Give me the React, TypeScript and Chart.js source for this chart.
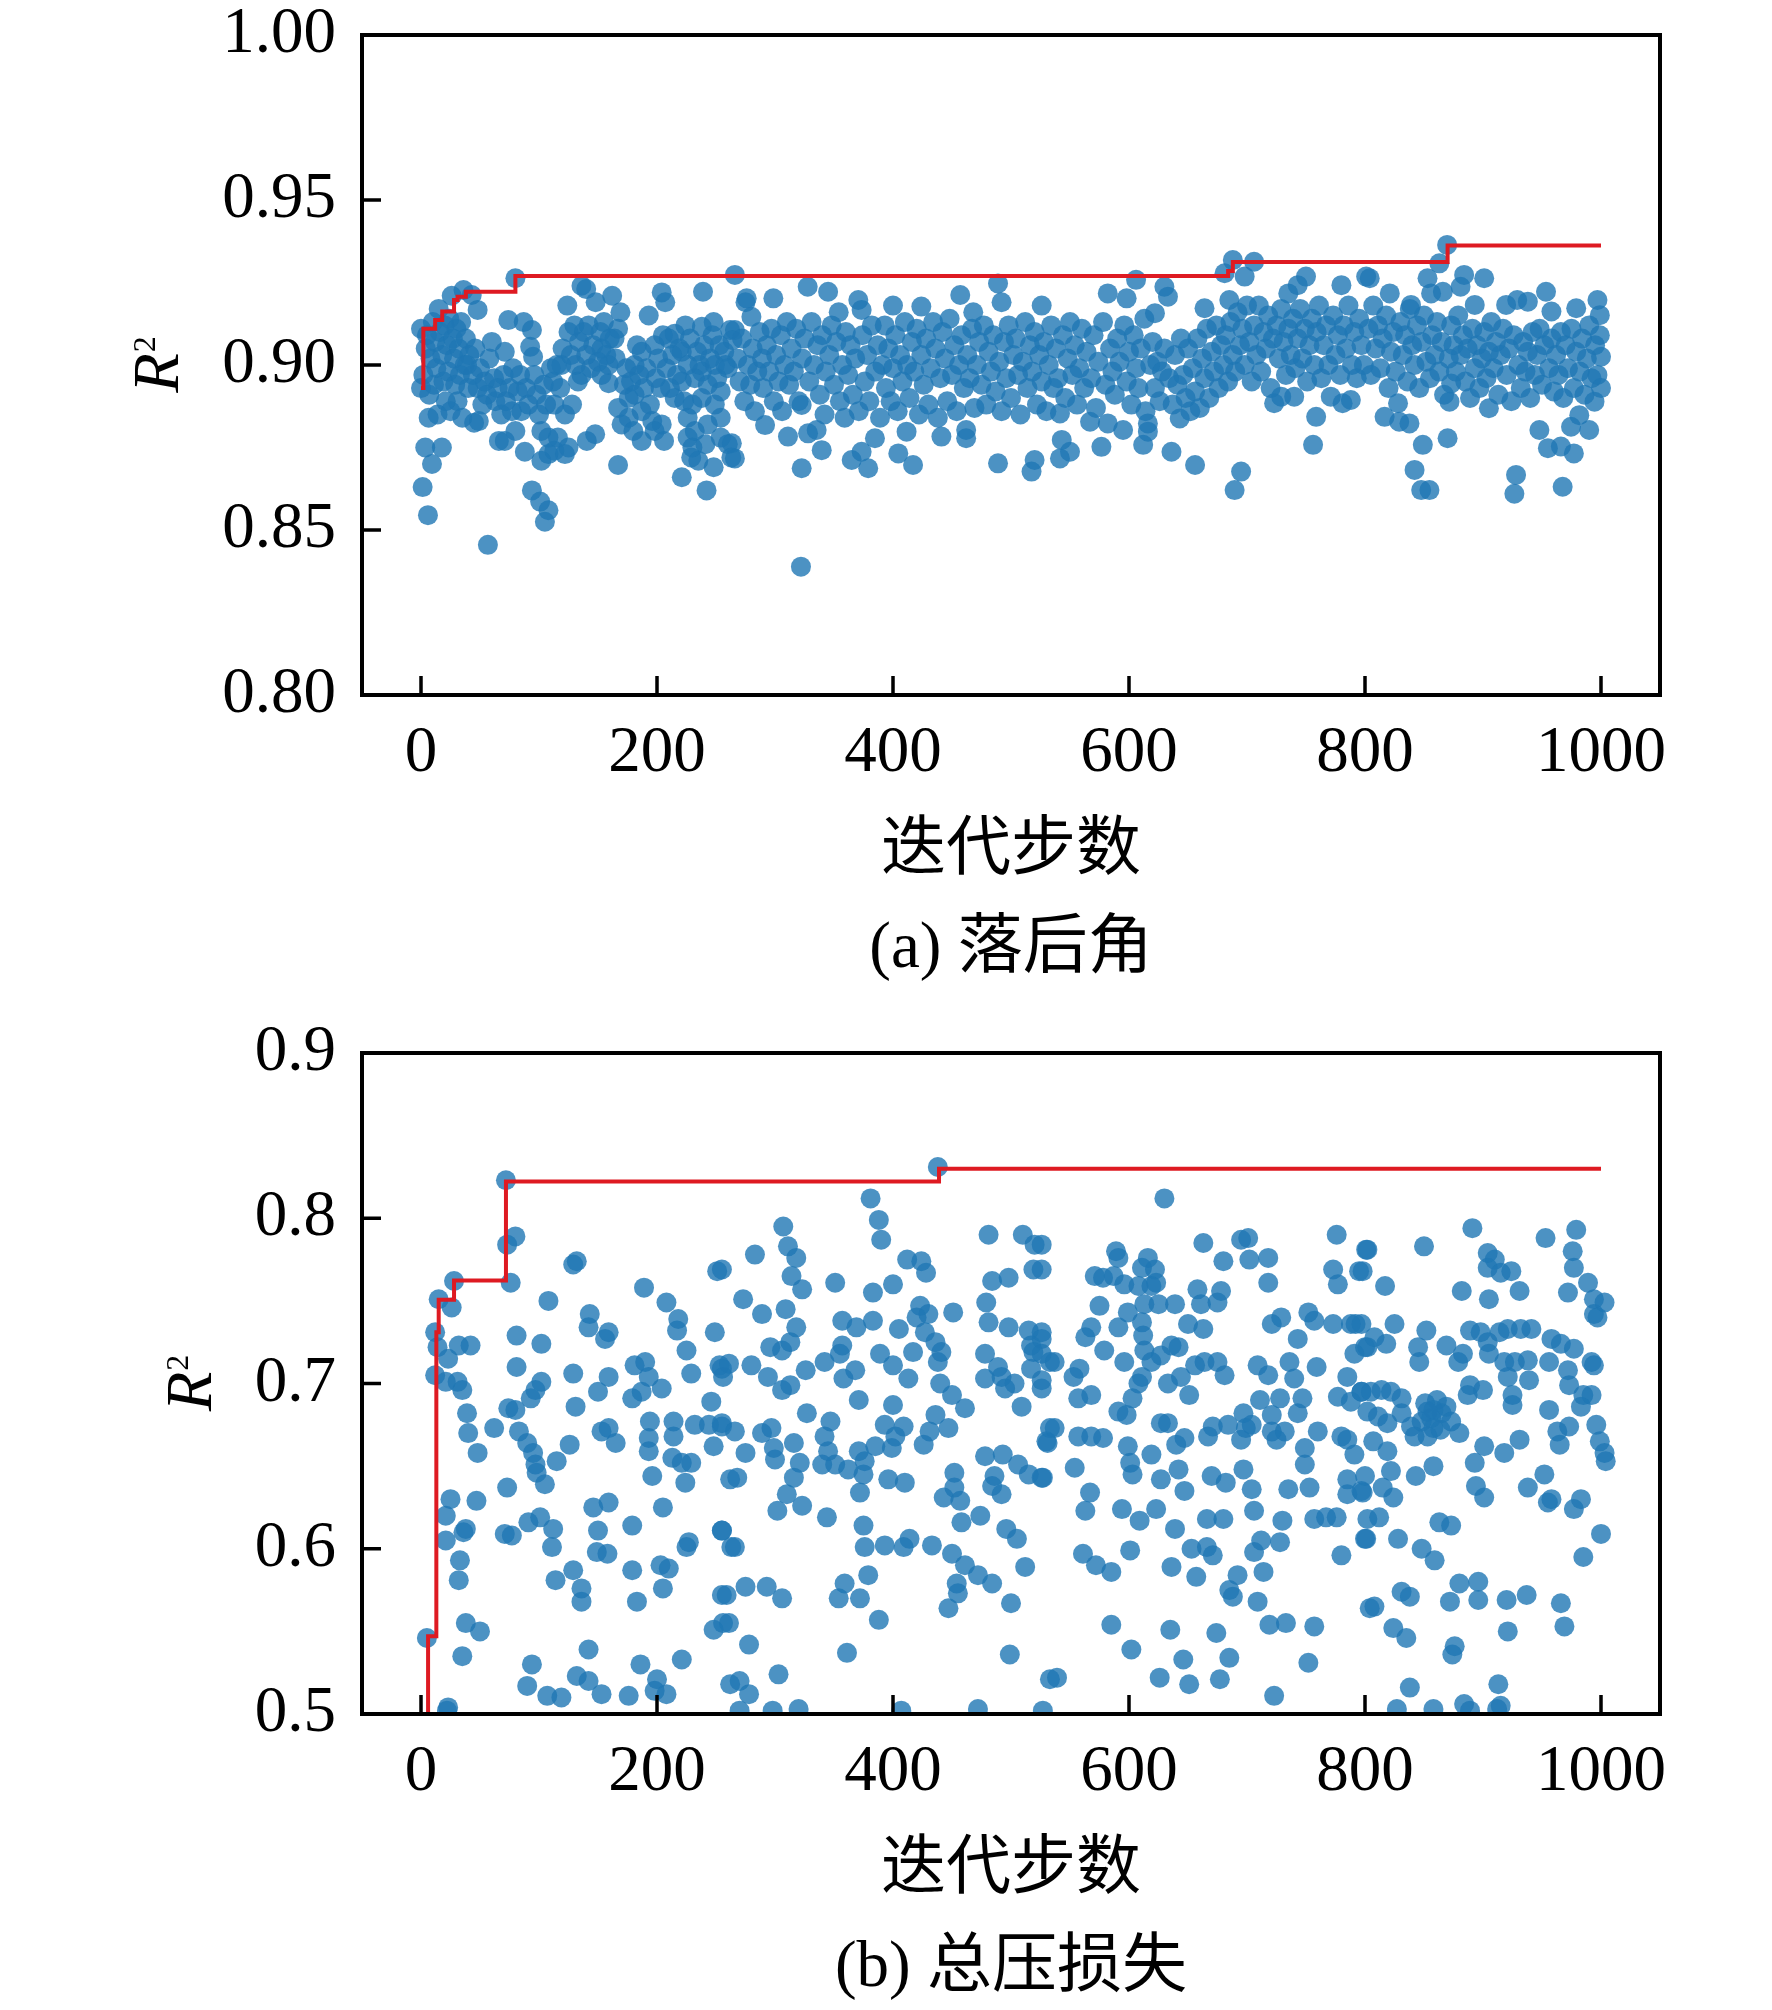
import React, { useEffect, useRef } from 'react'
import { Chart, registerables } from 'chart.js'
import type { Plugin } from 'chart.js'

Chart.register(...registerables)

type Pair = [number, number]

// ---- data -----------------------------------------------------------------

const xTicks = [0, 200, 400, 600, 800, 1000]
const lagYTicks = [0.8, 0.85, 0.9, 0.95, 1.0]
const lossYTicks = [0.5, 0.6, 0.7, 0.8, 0.9]

const xTitle = '迭代步数'
const lagCaption = '(a) 落后角'
const lossCaption = '(b) 总压损失'

// best R² found so far (step line)
const lagBest: Pair[] = [
  [0, 0.893], [2, 0.911], [12, 0.9136], [18, 0.9162], [28, 0.9197], [31, 0.9207],
  [38, 0.9222], [80, 0.927], [684, 0.9285], [688, 0.9312], [870, 0.9362], [1000, 0.9362],
]

const lossBest: Pair[] = [
  [0, 0.42], [6, 0.547], [13, 0.731], [15, 0.7507], [28, 0.7624], [72, 0.8223],
  [439, 0.83], [1000, 0.83],
]

// R² of every trial, deviation angle
const lagTrials: Pair[] = [
  [0, 0.893], [0, 0.911], [2, 0.897], [4, 0.905], [5, 0.909], [6.5, 0.884], [3.6, 0.875], [17.7, 0.875],
  [9.3, 0.87], [1.4, 0.863], [5.9, 0.8545], [56.7, 0.8455],
  [8, 0.902], [10, 0.913], [12, 0.907], [13, 0.899], [15, 0.917], [16, 0.91], [18, 0.903], [19, 0.895],
  [20, 0.912], [22, 0.906], [23, 0.898], [24, 0.914], [26, 0.921], [27, 0.908], [28, 0.902], [29, 0.894],
  [30, 0.911], [32, 0.905], [33, 0.897], [34, 0.913], [36, 0.9227], [37, 0.9], [38, 0.908], [40, 0.893],
  [41, 0.903], [43, 0.9212], [44, 0.897], [46, 0.905], [48, 0.9167], [48, 0.893], [50, 0.899], [52, 0.888],
  [54, 0.895], [56, 0.891], [11, 0.894], [7, 0.891], [21, 0.889], [31, 0.889], [25, 0.886], [14, 0.885],
  [35, 0.884], [45, 0.8825], [49, 0.883], [39, 0.9],
  [58, 0.902], [60, 0.907], [62, 0.896], [63, 0.889], [65, 0.893], [66, 0.877], [68, 0.885], [70, 0.897],
  [71, 0.904], [71, 0.877], [72, 0.889], [74, 0.9136], [75, 0.893], [77, 0.886], [78, 0.899], [80, 0.9263],
  [80, 0.88], [82, 0.892], [84, 0.897], [85, 0.886], [87, 0.913], [88, 0.8737], [89, 0.893], [91, 0.888],
  [92.5, 0.9055], [94, 0.9106], [94, 0.862], [95, 0.9025], [96, 0.897], [98, 0.891], [100, 0.885],
  [101, 0.8586], [102, 0.871], [102, 0.88], [104, 0.894], [105, 0.8525], [106, 0.888], [108, 0.856],
  [108, 0.873], [108, 0.878], [110, 0.899],
  [112, 0.895], [113, 0.888], [113, 0.874], [115, 0.9], [116, 0.878], [118, 0.893], [119, 0.9], [120, 0.905],
  [122, 0.873], [122, 0.885], [124, 0.918], [125, 0.91], [125, 0.875], [127, 0.903], [128, 0.888], [130, 0.912],
  [131, 0.9], [133, 0.895], [134, 0.907], [136, 0.924], [136, 0.897], [138, 0.91], [140, 0.923], [140, 0.903],
  [140.5, 0.877], [142, 0.912], [144, 0.899], [146, 0.906], [147.6, 0.879], [148, 0.919], [150, 0.901],
  [152, 0.91], [153, 0.905], [153, 0.897], [155, 0.913], [157, 0.903], [159, 0.9], [159, 0.8945], [160, 0.908],
  [162, 0.921], [164, 0.908], [165, 0.902], [167, 0.911], [167, 0.8697], [167, 0.887], [169, 0.916],
  [170, 0.882], [172, 0.894], [174, 0.899], [176, 0.884], [176, 0.89], [178, 0.895], [180, 0.88], [181, 0.891],
  [181, 0.9], [183, 0.906], [185, 0.897], [187, 0.877], [187, 0.886], [187, 0.904], [189, 0.893], [191, 0.899],
  [193, 0.915], [194, 0.888], [196, 0.883], [198, 0.906], [198, 0.88], [199, 0.896], [201, 0.902], [203, 0.893],
  [204, 0.922], [204, 0.882], [205, 0.909], [206, 0.877], [207, 0.919], [208, 0.899], [210, 0.908], [211, 0.893],
  [213, 0.903], [215, 0.9095], [215, 0.89], [217, 0.897], [219, 0.905], [221, 0.904], [221, 0.895], [221, 0.866],
  [223, 0.889], [224, 0.912], [226, 0.9], [226, 0.884], [226, 0.878], [228, 0.908], [229, 0.872], [230, 0.888],
  [230, 0.875], [232, 0.896], [232, 0.88], [234, 0.904], [235, 0.871], [236, 0.9], [238, 0.898], [238, 0.89],
  [238, 0.9116], [239, 0.9222], [240, 0.906], [241, 0.876], [242, 0.862], [243, 0.894], [243, 0.882], [245, 0.902],
  [247, 0.909], [248, 0.913], [248, 0.869], [249, 0.9], [249, 0.888], [251, 0.896], [253, 0.906], [254, 0.892],
  [254, 0.884], [254, 0.878], [257, 0.904], [258, 0.9], [260, 0.899], [260, 0.876], [262, 0.9106], [263, 0.872],
  [264, 0.9076], [266, 0.9273], [266, 0.9106], [263.4, 0.8763], [266, 0.8717], [268, 0.902], [270, 0.895],
  [272, 0.908], [274, 0.889], [275, 0.919], [276, 0.9202], [277, 0.9], [279, 0.894], [280, 0.9146], [281, 0.905],
  [283, 0.886], [285, 0.898], [287, 0.91], [289, 0.902], [290, 0.893], [291.6, 0.8818], [293, 0.906], [295, 0.898],
  [297, 0.911], [298.6, 0.9202], [299, 0.889], [301, 0.903], [303, 0.895], [305, 0.909], [306, 0.886], [308, 0.9],
  [310, 0.913], [311, 0.8783], [312, 0.894], [314, 0.905], [316, 0.898], [318, 0.911], [320, 0.889],
  [322.6, 0.8879], [322.6, 0.8687], [322, 0.8389], [323, 0.902], [325, 0.908], [327.7, 0.9237], [328, 0.8793],
  [329, 0.895], [331, 0.913], [333, 0.9], [335.3, 0.8803], [336, 0.906], [338, 0.891], [339.6, 0.8742],
  [340, 0.909], [342, 0.885], [343, 0.898], [345, 0.9222], [346, 0.903], [348, 0.912], [350, 0.894], [352, 0.907],
  [354, 0.916], [355, 0.889], [357, 0.9], [359, 0.884], [360, 0.91], [362, 0.897], [364, 0.906], [365, 0.8712],
  [366, 0.891], [368, 0.902], [370.6, 0.9197], [371, 0.886], [373.4, 0.9167], [373.4, 0.8737], [374, 0.909],
  [376, 0.895], [378, 0.903], [379, 0.8687], [380, 0.889], [382, 0.912], [384.7, 0.8778], [385, 0.898],
  [387, 0.906], [389, 0.884], [391, 0.9], [393, 0.912], [394, 0.893], [396, 0.905], [398, 0.889], [400, 0.918],
  [400, 0.899],
  [402, 0.909], [404, 0.886], [404.5, 0.8732], [406, 0.903], [408, 0.895], [410, 0.913], [411.5, 0.8798],
  [412, 0.9], [414, 0.89], [416, 0.907], [417, 0.8697], [418, 0.898], [420, 0.911], [422, 0.885], [424, 0.9177],
  [424, 0.903], [426, 0.894], [428, 0.908], [430, 0.888], [432, 0.899], [434, 0.913], [436, 0.905], [438, 0.884],
  [440, 0.896], [441, 0.8783], [442, 0.91], [444, 0.902], [446, 0.889], [448, 0.914], [450, 0.897], [452, 0.906],
  [454, 0.886], [456, 0.9], [457, 0.9212], [458, 0.909], [460, 0.893], [462, 0.8803], [462, 0.8778], [463, 0.903],
  [465, 0.896], [467, 0.911], [468, 0.916], [469, 0.887], [471, 0.9], [473, 0.907], [475, 0.894], [477, 0.912],
  [479, 0.888], [481, 0.904], [483, 0.898], [485, 0.909], [487, 0.892], [489, 0.9247], [489, 0.8702], [490, 0.901],
  [492, 0.919], [492, 0.886], [494, 0.907], [496, 0.896], [498, 0.912], [500, 0.89], [502, 0.903], [504, 0.908],
  [506, 0.897], [508, 0.885], [510, 0.901], [512, 0.913], [514, 0.893], [516, 0.906], [517.4, 0.8677], [518, 0.898],
  [520, 0.8712], [520, 0.91], [522, 0.888], [524, 0.903], [526, 0.918], [526, 0.895], [528, 0.907], [530, 0.886],
  [532, 0.9], [534, 0.912], [536, 0.893], [538, 0.905], [540, 0.896], [541.5, 0.8853], [541.5, 0.8717],
  [543, 0.8773], [544, 0.909], [546, 0.89], [548, 0.902], [550, 0.8737], [550, 0.913], [552, 0.897], [554, 0.906],
  [556, 0.888], [558, 0.899], [560, 0.911], [562, 0.893], [564, 0.904], [567, 0.8828], [568, 0.896], [570, 0.909],
  [572, 0.887], [574, 0.901], [576.6, 0.8752], [578, 0.913], [580, 0.894], [582, 0.9217], [582, 0.8823],
  [584, 0.905], [586, 0.898], [588, 0.891], [590, 0.908], [592, 0.901], [595, 0.8803], [596, 0.912], [598, 0.9202],
  [598, 0.895], [600, 0.904], [602, 0.888], [604, 0.909], [606, 0.9258], [606, 0.899], [608, 0.893], [610, 0.905],
  [612, 0.8758], [613, 0.914], [614, 0.886], [616, 0.8823], [616, 0.8798], [618, 0.9], [620, 0.907], [622, 0.9157],
  [622, 0.893], [624, 0.901], [626, 0.889], [628, 0.898], [630, 0.9237], [630, 0.905], [633, 0.9207], [634, 0.896],
  [636, 0.8737], [637, 0.888], [639, 0.903], [641, 0.894], [643, 0.8838], [644, 0.908], [646, 0.897], [648, 0.89],
  [650, 0.905], [652, 0.886], [654, 0.899], [656, 0.8697], [656, 0.892], [658, 0.908], [660, 0.887], [662, 0.902],
  [664, 0.9172], [664, 0.896], [666, 0.911], [668, 0.89], [670, 0.904], [672, 0.898], [674, 0.912], [676, 0.893],
  [678, 0.906], [680, 0.9],
  [681, 0.9278], [682, 0.909], [684, 0.895], [685, 0.9197], [686, 0.913], [688, 0.9318], [688, 0.903],
  [689.5, 0.8621], [690, 0.898], [692, 0.916], [694, 0.906], [695, 0.8677], [696, 0.911], [698, 0.9268],
  [698, 0.9], [700, 0.918], [702, 0.907], [704, 0.895], [706, 0.9313], [706, 0.912], [708, 0.903], [710, 0.918],
  [712, 0.898], [714, 0.91], [716, 0.905], [718, 0.915], [720, 0.893], [722, 0.908], [723, 0.8884], [725, 0.912],
  [727, 0.902], [729, 0.8904], [729, 0.917], [731, 0.907], [733, 0.897], [735, 0.9217], [735, 0.911], [737, 0.903],
  [739, 0.914], [740, 0.8904], [741, 0.899], [743, 0.9242], [743, 0.908], [745, 0.917], [747, 0.902], [749, 0.911],
  [750, 0.9268], [751, 0.895], [753, 0.906], [755, 0.914], [756, 0.8758], [757, 0.9], [758.6, 0.8843], [759, 0.91],
  [761, 0.918], [763, 0.896], [765, 0.906], [767, 0.912], [769, 0.9], [771, 0.8904], [773, 0.915], [775, 0.903],
  [777, 0.909], [779, 0.897], [780, 0.9242], [781, 0.8884], [782, 0.912], [784, 0.905], [786, 0.918], [788, 0.8894],
  [789, 0.9], [791, 0.91], [793, 0.896], [795, 0.914], [797, 0.906], [799, 0.9], [801, 0.9268],
  [803, 0.911], [804, 0.9263], [805, 0.897], [807, 0.918], [809, 0.905], [811, 0.912], [813, 0.899], [815, 0.908],
  [816.6, 0.8843], [818, 0.915], [820, 0.893], [821, 0.9217], [822, 0.904], [824, 0.91], [826, 0.898], [828, 0.8884],
  [829, 0.8828], [830, 0.913], [832, 0.903], [834, 0.909], [836, 0.895], [837.7, 0.8823], [838, 0.917], [839, 0.9182],
  [840, 0.906], [842, 0.8682], [842, 0.9], [844, 0.912], [846, 0.893], [847.6, 0.8621], [848, 0.907], [849, 0.8758],
  [850, 0.915], [852, 0.901], [853, 0.9263], [854.6, 0.8621], [855, 0.896], [856, 0.9217], [857, 0.909], [859, 0.903],
  [861, 0.913], [863, 0.9308], [863, 0.898], [865, 0.907], [866, 0.9222], [867, 0.891], [869.6, 0.9364], [870, 0.8778],
  [871, 0.902], [871.6, 0.8889], [873, 0.8944], [873, 0.912], [875, 0.906], [877, 0.898], [879, 0.915], [881, 0.9237],
  [881, 0.903],
  [883, 0.909], [884, 0.9273], [885, 0.895], [887, 0.905], [889, 0.89], [891, 0.911], [893, 0.9182], [893, 0.899],
  [895, 0.906], [897, 0.893], [899, 0.902], [901, 0.9263], [901, 0.91], [903, 0.896], [905, 0.8869], [905, 0.904],
  [907, 0.913], [909, 0.899], [911, 0.907], [913, 0.891], [915, 0.903], [917, 0.911], [919.6, 0.9182], [920, 0.897],
  [922, 0.905], [924, 0.889], [926, 0.909], [926.6, 0.861], [928, 0.8667], [929, 0.9197], [930, 0.9], [932, 0.893],
  [934, 0.907], [936, 0.898], [938, 0.9192], [938, 0.904], [940, 0.89], [942, 0.91], [944, 0.897], [946, 0.903],
  [947.8, 0.8803], [948, 0.911], [950, 0.894], [952, 0.906], [953.4, 0.9222], [955, 0.8748], [956, 0.899],
  [958, 0.9162], [958, 0.908], [960, 0.892], [962, 0.903], [964, 0.897], [966, 0.8753], [966, 0.91], [967.5, 0.8631],
  [968, 0.89], [970, 0.906], [972, 0.899], [974.6, 0.8813], [975, 0.911], [977, 0.8732], [977, 0.893], [979, 0.9172],
  [979, 0.904], [981.6, 0.8848], [982, 0.898], [984, 0.908], [986, 0.891], [988, 0.902], [990, 0.8803], [990, 0.912],
  [992, 0.896], [994.5, 0.8889], [995, 0.906], [997, 0.9197], [997, 0.897], [999, 0.9151], [999, 0.909],
  [1000, 0.9025], [1000, 0.893],
]

// R² of every trial, total pressure loss
const lossTrials: Pair[] = [
  [72, 0.823], [80, 0.789], [73, 0.784], [76, 0.761], [28, 0.762], [15, 0.751], [26, 0.746], [12, 0.731], [23, 0.715],
  [32, 0.723], [42, 0.723], [21, 0.701], [31, 0.701], [35, 0.696], [39, 0.682], [40, 0.67], [48, 0.658], [62, 0.673],
  [81, 0.729], [102, 0.724], [81, 0.71], [108, 0.75], [129, 0.772], [132, 0.774], [143, 0.742], [142, 0.734],
  [159, 0.731], [156, 0.727], [129, 0.706], [159, 0.704], [150, 0.695], [102, 0.701], [97, 0.696], [93, 0.691],
  [74, 0.685], [80, 0.684], [83, 0.671], [90, 0.664], [95, 0.658], [97, 0.651], [98, 0.646], [105, 0.639], [115, 0.653],
  [126, 0.663], [131, 0.686], [153, 0.671], [159, 0.673], [165, 0.664], [181, 0.711], [190, 0.713], [193, 0.704],
  [187, 0.695], [179, 0.691], [204, 0.697], [189, 0.758], [208, 0.749], [218, 0.739], [217, 0.732], [225, 0.72],
  [229, 0.706], [194, 0.677], [193, 0.667], [193, 0.659], [196, 0.644], [214, 0.677], [214, 0.668], [213, 0.655],
  [221, 0.652], [229, 0.652], [224, 0.64], [232, 0.675], [244, 0.675], [255, 0.674], [249, 0.731], [251, 0.768],
  [246, 0.689], [248, 0.662], [253, 0.711], [256, 0.704], [262, 0.642],
  [25, 0.63], [21, 0.62], [21, 0.605], [47, 0.629], [38, 0.612], [36, 0.61], [33, 0.593], [32, 0.581], [73, 0.637],
  [71, 0.609], [77, 0.608], [91, 0.616], [101, 0.619], [112, 0.612], [111, 0.601], [114, 0.581], [129, 0.587],
  [136, 0.576], [136, 0.568], [146, 0.625], [159, 0.628], [150, 0.611], [149, 0.598], [158, 0.597], [179, 0.614],
  [179, 0.587], [183, 0.568], [205, 0.625], [203, 0.59], [210, 0.588], [205, 0.576], [225, 0.601], [227, 0.604],
  [255, 0.611], [263, 0.601], [255, 0.572], [248, 0.551], [256, 0.555], [38, 0.555], [50, 0.55], [5, 0.546],
  [35, 0.535], [142, 0.539], [94, 0.53], [90, 0.517], [107, 0.511], [119, 0.51], [132, 0.523], [142, 0.52],
  [153, 0.512], [176, 0.511], [186, 0.53], [200, 0.521], [198, 0.514], [208, 0.512], [221, 0.533], [23, 0.504],
  [262, 0.518], [12, 0.705], [14, 0.722],
  [438, 0.831], [381, 0.812], [388, 0.799], [390, 0.787], [307, 0.795], [311, 0.783], [318, 0.776], [314, 0.765],
  [323, 0.757], [283, 0.778], [255, 0.769], [273, 0.751], [289, 0.742], [309, 0.745], [318, 0.734], [313, 0.725],
  [306, 0.72], [296, 0.722], [351, 0.761], [412, 0.775], [424, 0.774], [428, 0.767], [400, 0.76], [383, 0.755],
  [357, 0.738], [369, 0.734], [383, 0.738], [423, 0.747], [420, 0.74], [430, 0.742], [405, 0.733], [451, 0.743],
  [427, 0.731], [436, 0.725], [441, 0.719], [438, 0.713], [357, 0.723], [355, 0.718], [342, 0.713], [326, 0.708],
  [389, 0.718], [400, 0.711], [417, 0.719], [413, 0.703], [368, 0.708], [358, 0.703], [261, 0.712], [255, 0.709],
  [280, 0.711], [294, 0.704], [306, 0.696], [313, 0.699], [440, 0.7], [450, 0.693], [461, 0.685], [371, 0.69],
  [400, 0.687], [393, 0.675], [409, 0.674], [402, 0.668], [436, 0.681], [447, 0.673], [431, 0.671], [426, 0.663],
  [327, 0.682], [347, 0.677], [342, 0.668], [345, 0.659], [340, 0.651], [351, 0.651], [297, 0.673], [299, 0.661],
  [300, 0.654], [289, 0.67], [255, 0.676], [266, 0.671], [275, 0.658], [316, 0.664], [321, 0.652], [316, 0.643],
  [310, 0.633], [302, 0.623], [323, 0.626], [362, 0.648], [371, 0.659], [376, 0.653], [385, 0.662], [399, 0.661],
  [375, 0.645], [372, 0.634], [396, 0.642], [410, 0.64], [268, 0.643], [344, 0.619], [452, 0.646], [452, 0.637],
  [443, 0.631], [457, 0.629], [458, 0.616], [474, 0.62], [478, 0.656], [493, 0.657], [486, 0.644], [484, 0.638],
  [492, 0.633], [506, 0.651], [515, 0.645], [527, 0.643], [530, 0.665], [533, 0.673], [478, 0.718], [478, 0.703],
  [489, 0.71], [492, 0.704], [503, 0.7], [495, 0.697], [509, 0.686], [526, 0.702], [517, 0.709], [519, 0.719],
  [526, 0.727], [533, 0.713], [481, 0.737], [498, 0.734], [515, 0.732], [517, 0.723], [479, 0.749], [484, 0.762],
  [498, 0.764], [481, 0.79], [510, 0.79], [520, 0.784], [519, 0.769], [255, 0.611], [266, 0.601], [375, 0.614],
  [376, 0.601], [393, 0.602], [409, 0.601], [414, 0.606], [433, 0.602], [450, 0.597], [461, 0.59], [472, 0.584],
  [484, 0.579], [454, 0.579], [455, 0.573], [447, 0.564], [496, 0.612], [505, 0.606], [512, 0.589], [500, 0.567],
  [499, 0.536], [379, 0.584], [359, 0.579], [354, 0.57], [372, 0.57], [388, 0.557], [275, 0.577], [293, 0.577],
  [306, 0.57], [259, 0.572], [261, 0.555], [278, 0.542], [361, 0.537], [303, 0.524], [270, 0.52], [278, 0.512],
  [533, 0.521],
  [630, 0.812], [663, 0.785], [680, 0.774], [695, 0.787], [701, 0.788], [702, 0.775], [718, 0.776], [718, 0.761],
  [776, 0.79], [773, 0.769], [777, 0.76], [801, 0.781], [795, 0.768], [526, 0.784], [526, 0.769], [589, 0.78],
  [591, 0.776], [587, 0.765], [571, 0.765], [578, 0.764], [596, 0.76], [608, 0.759], [619, 0.759], [623, 0.761],
  [611, 0.77], [616, 0.776], [622, 0.769], [658, 0.757], [678, 0.756], [661, 0.748], [675, 0.749], [575, 0.747],
  [599, 0.743], [613, 0.748], [625, 0.748], [639, 0.748], [650, 0.736], [663, 0.733], [568, 0.734], [563, 0.728],
  [558, 0.709], [553, 0.704], [591, 0.734], [611, 0.737], [612, 0.729], [613, 0.72], [619, 0.713], [611, 0.704],
  [608, 0.7], [603, 0.691], [627, 0.717], [636, 0.723], [642, 0.722], [579, 0.72], [596, 0.713], [633, 0.7],
  [644, 0.704], [656, 0.711], [664, 0.713], [675, 0.713], [681, 0.705], [651, 0.693], [557, 0.691], [568, 0.693],
  [526, 0.697], [537, 0.713], [591, 0.683], [598, 0.681], [627, 0.676], [633, 0.676], [537, 0.673], [531, 0.664],
  [526, 0.643], [557, 0.668], [568, 0.668], [578, 0.667], [599, 0.662], [601, 0.652], [603, 0.645], [619, 0.657],
  [647, 0.667], [640, 0.663], [554, 0.649], [567, 0.634], [563, 0.623], [594, 0.624], [609, 0.617], [623, 0.624],
  [627, 0.642], [642, 0.648], [647, 0.635], [639, 0.612], [670, 0.644], [682, 0.64], [667, 0.668], [671, 0.674],
  [684, 0.675], [697, 0.682], [699, 0.673], [695, 0.666], [704, 0.675], [697, 0.648], [704, 0.636], [706, 0.623],
  [666, 0.618], [680, 0.618], [653, 0.6], [666, 0.601], [671, 0.596], [636, 0.589], [657, 0.583], [561, 0.597],
  [572, 0.59], [585, 0.586], [601, 0.599], [711, 0.69], [721, 0.681], [709, 0.711], [718, 0.705], [728, 0.691],
  [736, 0.713], [740, 0.703], [747, 0.691], [743, 0.682], [732, 0.671], [725, 0.666], [721, 0.671], [721, 0.736],
  [729, 0.74], [743, 0.727], [752, 0.743], [757, 0.738], [773, 0.736], [792, 0.736], [759, 0.71], [760, 0.671],
  [749, 0.661], [749, 0.651], [735, 0.636], [753, 0.637], [730, 0.617], [728, 0.604], [712, 0.605], [706, 0.598],
  [714, 0.586], [692, 0.584], [685, 0.575], [688, 0.571], [709, 0.568], [757, 0.618], [767, 0.619], [776, 0.619],
  [780, 0.596], [780, 0.668], [785, 0.666], [791, 0.657], [785, 0.642], [797, 0.635], [785, 0.633], [777, 0.692],
  [788, 0.689], [797, 0.695], [785, 0.704], [791, 0.718], [802, 0.722], [788, 0.736], [801, 0.606], [526, 0.731],
  [526, 0.718], [585, 0.554], [602, 0.539], [635, 0.551], [646, 0.533], [626, 0.522], [651, 0.518], [674, 0.549],
  [685, 0.534], [677, 0.521], [719, 0.554], [733, 0.555], [757, 0.553], [752, 0.531], [723, 0.511], [539, 0.522],
  [804, 0.564],
  [891, 0.794], [953, 0.788], [979, 0.793], [976, 0.78], [977, 0.77], [989, 0.761], [994, 0.751], [1003, 0.749],
  [994, 0.742], [997, 0.74], [972, 0.755], [802, 0.781], [798, 0.768], [850, 0.783], [817, 0.759], [904, 0.779],
  [910, 0.775], [904, 0.77], [915, 0.767], [924, 0.768], [882, 0.756], [905, 0.751], [931, 0.756], [825, 0.736],
  [808, 0.728], [800, 0.722], [818, 0.724], [797, 0.736], [852, 0.732], [845, 0.722], [846, 0.713], [869, 0.723],
  [879, 0.713], [883, 0.718], [889, 0.732], [898, 0.731], [904, 0.725], [905, 0.718], [914, 0.731], [921, 0.733],
  [932, 0.733], [941, 0.733], [918, 0.713], [921, 0.704], [927, 0.713], [938, 0.714], [939, 0.702], [925, 0.693],
  [925, 0.687], [889, 0.699], [887, 0.693], [900, 0.696], [958, 0.727], [966, 0.724], [977, 0.721], [956, 0.713],
  [992, 0.713], [994, 0.711], [972, 0.708], [973, 0.699], [985, 0.693], [983, 0.686], [992, 0.693], [956, 0.684],
  [963, 0.671], [965, 0.663], [973, 0.674], [996, 0.675], [999, 0.665], [1003, 0.658], [1004, 0.653], [797, 0.695],
  [805, 0.695], [814, 0.696], [822, 0.695], [831, 0.691], [802, 0.683], [811, 0.68], [819, 0.676], [831, 0.682],
  [839, 0.674], [842, 0.668], [853, 0.668], [848, 0.677], [858, 0.684], [865, 0.682], [873, 0.677], [880, 0.67],
  [851, 0.688], [856, 0.679], [861, 0.69], [864, 0.672], [869, 0.686], [853, 0.683], [858, 0.673], [807, 0.665],
  [819, 0.659], [822, 0.647], [815, 0.637], [824, 0.631], [800, 0.644], [798, 0.634], [843, 0.644], [858, 0.65],
  [901, 0.662], [918, 0.658], [893, 0.652], [894, 0.638], [901, 0.631], [931, 0.666], [938, 0.637], [952, 0.645],
  [955, 0.628], [958, 0.63], [977, 0.624], [983, 0.63], [802, 0.618], [812, 0.619], [800, 0.606], [828, 0.606],
  [848, 0.6], [859, 0.593], [863, 0.616], [873, 0.614], [1000, 0.609], [985, 0.595], [808, 0.565], [824, 0.552],
  [835, 0.546], [831, 0.574], [838, 0.571], [872, 0.568], [880, 0.579], [896, 0.58], [896, 0.569], [920, 0.569],
  [937, 0.572], [921, 0.55], [966, 0.567], [969, 0.553], [876, 0.541], [874, 0.536], [838, 0.516], [913, 0.518],
  [915, 0.505], [884, 0.506], [858, 0.503],
  [270, 0.502], [298, 0.502], [320, 0.503], [407, 0.502], [472, 0.503], [527, 0.502], [827, 0.503], [889, 0.502],
  [912, 0.503], [22, 0.502],
]

// ---- layout / style -------------------------------------------------------

const CANVAS_W = 1772
const CANVAS_H = 1005
const PLOT_LEFT = 362
const PLOT_RIGHT = 1660
const SERIF = "'Liberation Serif', 'Noto Sans CJK SC', serif"
const POINT_COLOR = 'rgba(31, 119, 180, 0.8)'
const BEST_COLOR = '#de1a22'

type PanelProps = {
  trials: Pair[]
  best: Pair[]
  yMin: number
  yMax: number
  yTicks: number[]
  decimals: number
  caption: string
  plotTop: number
  plotBottom: number
  yTitleX: number
}

function drawRSquared(ctx: CanvasRenderingContext2D, x: number, y: number) {
  ctx.save()
  ctx.translate(x, y)
  ctx.rotate(-Math.PI / 2)
  ctx.fillStyle = '#000'
  ctx.textAlign = 'left'
  ctx.textBaseline = 'alphabetic'
  ctx.font = `italic 65px ${SERIF}`
  const rW = ctx.measureText('R').width
  ctx.font = `32px ${SERIF}`
  const sW = ctx.measureText('2').width
  const start = -(rW + sW) / 2
  ctx.font = `italic 65px ${SERIF}`
  ctx.fillText('R', start, 22)
  ctx.font = `32px ${SERIF}`
  ctx.fillText('2', start + rW + 1, 22 - 23)
  ctx.restore()
}

const Panel: React.FC<PanelProps> = (p) => {
  const ref = useRef<HTMLCanvasElement | null>(null)

  useEffect(() => {
    if (!ref.current) return

    const decorations: Plugin<'scatter'> = {
      id: 'decorations',
      afterDraw(chart) {
        const { ctx, chartArea: a, scales } = chart
        ctx.save()
        ctx.strokeStyle = '#000'

        // inward tick marks on the left and bottom
        ctx.lineWidth = 3.5
        ctx.beginPath()
        xTicks.forEach((v) => {
          const px = scales.x.getPixelForValue(v)
          ctx.moveTo(px, a.bottom)
          ctx.lineTo(px, a.bottom - 19)
        })
        p.yTicks.forEach((v) => {
          const py = scales.y.getPixelForValue(v)
          ctx.moveTo(a.left, py)
          ctx.lineTo(a.left + 19, py)
        })
        ctx.stroke()

        // frame
        ctx.lineWidth = 4
        ctx.strokeRect(a.left, a.top, a.right - a.left, a.bottom - a.top)

        // titles
        ctx.fillStyle = '#000'
        ctx.textAlign = 'center'
        ctx.textBaseline = 'middle'
        ctx.font = `65px ${SERIF}`
        const cx = (a.left + a.right) / 2
        ctx.fillText(xTitle, cx, a.bottom + 157)
        ctx.fillText(p.caption, cx, a.bottom + 255)
        ctx.restore()

        drawRSquared(ctx, p.yTitleX, (a.top + a.bottom) / 2)
      },
    }

    const tickFont = { family: SERIF, size: 65, lineHeight: 1 }

    const chart = new Chart(ref.current, {
      type: 'scatter',
      data: {
        datasets: [
          {
            data: p.best.map(([x, y]) => ({ x, y })),
            showLine: true,
            stepped: true,
            borderColor: BEST_COLOR,
            borderWidth: 4,
            pointRadius: 0,
            fill: false,
            clip: 0,
            order: 0,
          },
          {
            data: p.trials.map(([x, y]) => ({ x, y })),
            backgroundColor: POINT_COLOR,
            borderWidth: 0,
            pointRadius: 10,
            clip: 0,
            order: 1,
          },
        ],
      },
      options: {
        responsive: false,
        devicePixelRatio: 1,
        animation: false,
        events: [],
        layout: { padding: { left: 0, right: CANVAS_W - PLOT_RIGHT, top: p.plotTop, bottom: 0 } },
        plugins: { legend: { display: false }, tooltip: { enabled: false } },
        scales: {
          x: {
            type: 'linear',
            min: -50,
            max: 1050,
            grid: { display: false },
            border: { display: false },
            afterBuildTicks: (scale) => {
              scale.ticks = xTicks.map((value) => ({ value }))
            },
            afterFit: (scale) => {
              scale.height = CANVAS_H - p.plotBottom
              scale.paddingLeft = 0
              scale.paddingRight = 0
            },
            ticks: {
              font: tickFont,
              color: '#000',
              padding: 18,
              maxRotation: 0,
              autoSkip: false,
              callback: (v) => String(v),
            },
          },
          y: {
            type: 'linear',
            min: p.yMin,
            max: p.yMax,
            grid: { display: false },
            border: { display: false },
            afterBuildTicks: (scale) => {
              scale.ticks = p.yTicks.map((value) => ({ value }))
            },
            afterFit: (scale) => {
              scale.width = PLOT_LEFT
              scale.paddingTop = 0
              scale.paddingBottom = 0
            },
            ticks: {
              font: tickFont,
              color: '#000',
              padding: 18,
              autoSkip: false,
              callback: (v) => Number(v).toFixed(p.decimals),
            },
          },
        },
      },
      plugins: [decorations],
    })
    return () => chart.destroy()
  }, [p])

  return (
    <canvas
      ref={ref}
      width={CANVAS_W}
      height={CANVAS_H}
      style={{ display: 'block', width: CANVAS_W, height: CANVAS_H }}
    />
  )
}

const lagPanel: PanelProps = {
  trials: lagTrials,
  best: lagBest,
  yMin: 0.8,
  yMax: 1.0,
  yTicks: lagYTicks,
  decimals: 2,
  caption: lagCaption,
  plotTop: 35,
  plotBottom: 695,
  yTitleX: 156,
}

const lossPanel: PanelProps = {
  trials: lossTrials,
  best: lossBest,
  yMin: 0.5,
  yMax: 0.9,
  yTicks: lossYTicks,
  decimals: 1,
  caption: lossCaption,
  plotTop: 48,
  plotBottom: 709,
  yTitleX: 189,
}

export default function App() {
  return (
    <div style={{ position: 'absolute', left: 0, top: 0, width: CANVAS_W, height: 2010, background: '#fff' }}>
      <Panel {...lagPanel} />
      <Panel {...lossPanel} />
    </div>
  )
}
